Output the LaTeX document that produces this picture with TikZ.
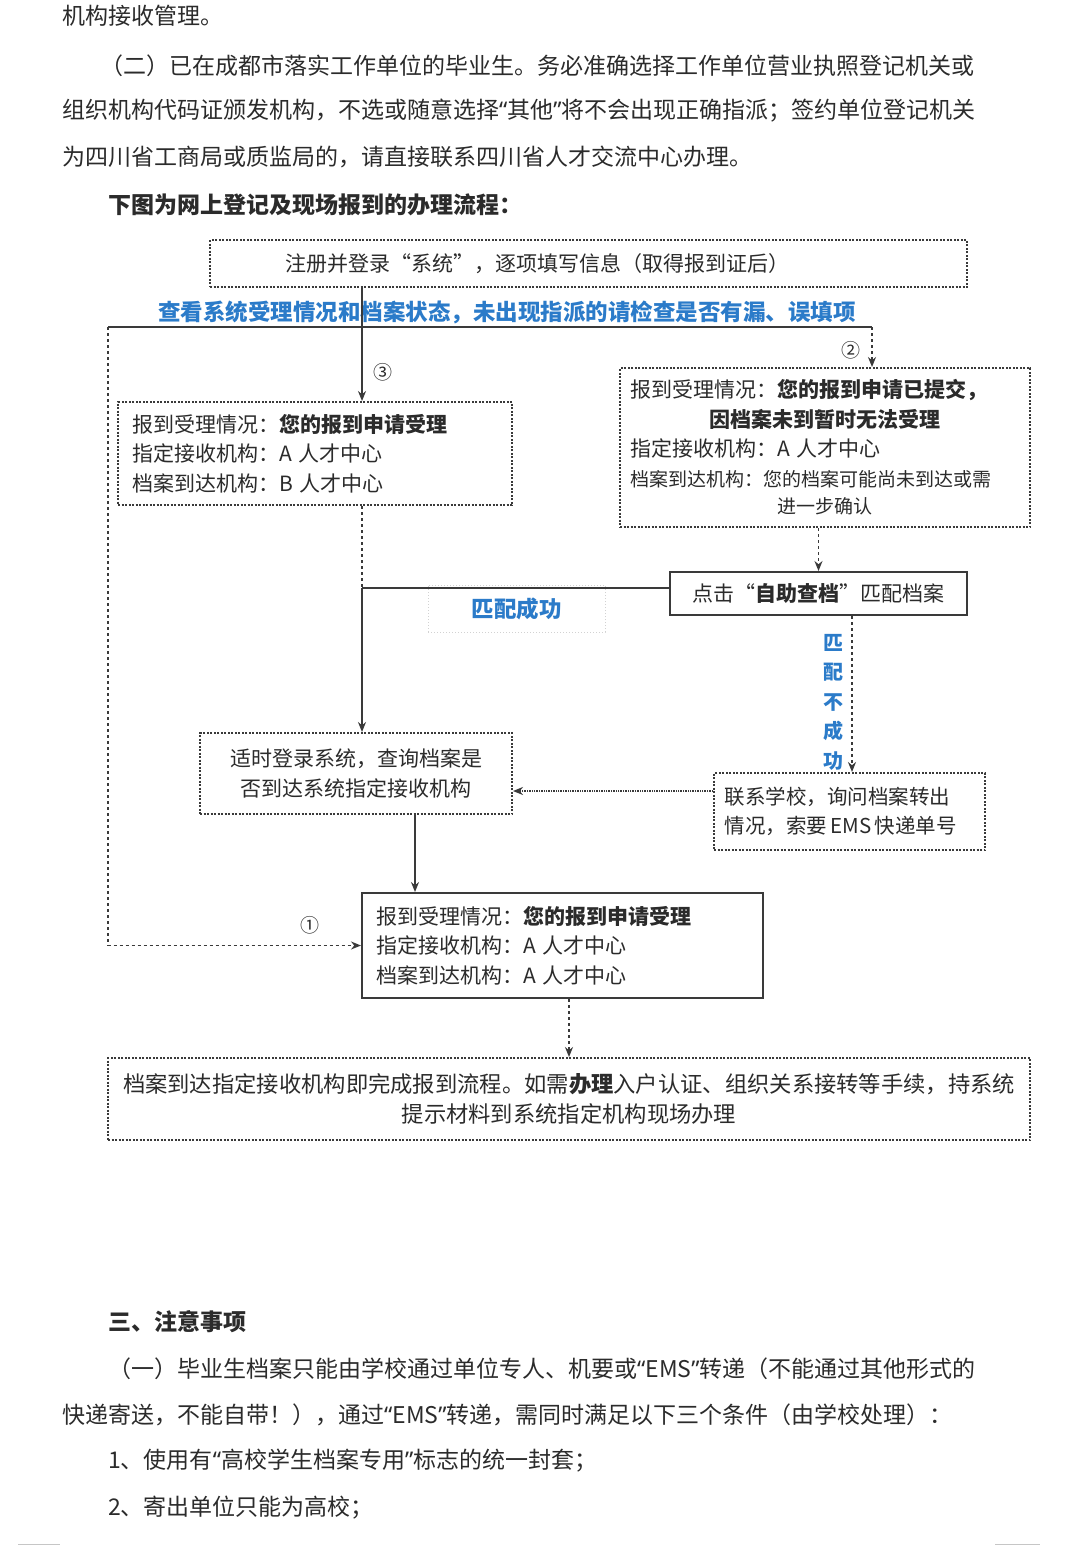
\documentclass[tikz,border=0pt]{standalone}
\usepackage{fontspec}
\setmainfont{Noto Sans CJK SC}
\newfontfamily\westfont{Noto Sans}
\newcommand{\qt}[1]{{\westfont “}#1{\westfont ”}}
\usetikzlibrary{arrows.meta,positioning}

\definecolor{inkgray}{HTML}{2B2B2B}
\definecolor{boxgray}{HTML}{3A3A3A}
\definecolor{noteblue}{HTML}{2B7BC9}

\tikzset{
	para/.style={anchor=west, inner sep=0pt, text=inkgray, font=\fontsize{23}{27}\selectfont},
	boldpara/.style={para, font=\bfseries\fontsize{23}{27}\selectfont},
	flowbox/.style={draw=boxgray, line width=2pt, dash pattern=on 2pt off 1.5pt, inner sep=0pt, text=inkgray, font=\fontsize{21}{29.5}\selectfont},
	solidbox/.style={flowbox, solid},
	note/.style={inner sep=0pt, text=noteblue, font=\bfseries\fontsize{22.5}{27}\selectfont},
	circnum/.style={inner sep=0pt, text=inkgray, font=\fontsize{19}{19}\selectfont},
	flow/.style={draw=boxgray, line width=1.4pt, -{Stealth[length=10pt,width=8pt]}},
	dashflow/.style={flow, dashed},
	trunk/.style={draw=boxgray, line width=2pt},
}

\begin{document}
\begin{tikzpicture}[x=1pt,y=-1pt]
	\fill[white] (0,0) rectangle (1080,1545);
	\useasboundingbox (0,0) rectangle (1080,1545);

	% Define nodes
	\node[para]     (p0) at (62,16)  {机构接收管理。};
	\node[para]     (p1) at (100,66) {（二）已在成都市落实工作单位的毕业生。务必准确选择工作单位营业执照登记机关或};
	\node[para]     (p2) at (62,111) {组织机构代码证颁发机构，不选或随意选择\qt{其他}将不会出现正确指派；签约单位登记机关};
	\node[para]     (p3) at (62,157) {为四川省工商局或质监局的，请直接联系四川省人才交流中心办理。};
	\node[boldpara] (p4) at (108,205) {下图为网上登记及现场报到的办理流程：};

	\node[flowbox, minimum width=757, minimum height=47, text width=607pt, align=left] (reg) at (588.5,263.5)
		{注册并登录“系统”，逐项填写信息（取得报到证后）};
	\node[note] (chk) at (507,312) {查看系统受理情况和档案状态，未出现指派的请检查是否有漏、误填项};

	\node[flowbox, minimum width=394, minimum height=103, text width=366pt, align=left] (reg2) at (315,453.5)
		{报到受理情况：\textbf{您的报到申请受理}\\指定接收机构：A 人才中心\\档案到达机构：B 人才中心};
	\node[flowbox, minimum width=410, minimum height=159, text width=390pt, align=center] (wait) at (825,447.5)
		{\makebox[390pt][l]{报到受理情况：\textbf{您的报到申请已提交，}}\\
		 \textbf{因档案未到暂时无法受理}\\
		 \makebox[390pt][l]{指定接收机构：A 人才中心}\\
		 \makebox[390pt][l]{\fontsize{19}{28}\selectfont 档案到达机构：您的档案可能尚未到达或需}\\[-2pt]
		 {\fontsize{19}{28}\selectfont 进一步确认}};

	\node[solidbox, minimum width=297, minimum height=43] (selfq) at (818.5,593.5)
		{点击“\textbf{自助查档}”匹配档案};
	\node[note, draw=gray!35, dotted, line width=1pt, minimum width=177, minimum height=47] (okay) at (516.5,608.5) {匹配成功};
	\node[note, align=center, font=\bfseries\fontsize{20}{29.5}\selectfont] (fail) at (833,702) {匹\\配\\不\\成\\功};

	\node[flowbox, minimum width=312, minimum height=81, text width=290pt, align=center] (relog) at (356,773.5)
		{适时登录系统，查询档案是\\否到达系统指定接收机构};
	\node[flowbox, minimum width=271, minimum height=77, text width=250pt, align=left, font=\fontsize{20.5}{29}\selectfont] (school) at (849.5,811.5)
		{联系学校，询问档案转出\\\mbox{情况，索要\,EMS\,快递单号}};

	\node[solidbox, minimum width=401, minimum height=105, text width=373pt, align=left] (done) at (562.5,945.5)
		{报到受理情况：\textbf{您的报到申请受理}\\指定接收机构：A 人才中心\\档案到达机构：A 人才中心};
	\node[flowbox, minimum width=922, minimum height=82, text width=900pt, align=center, font=\fontsize{22.3}{30}\selectfont] (finish) at (569,1099)
		{档案到达指定接收机构即完成报到流程。如需\textbf{办理}入户认证、组织关系接转等手续，持系统\\提示材料到系统指定机构现场办理};

	\node[circnum] (n3) at (383,372) {③};
	\node[circnum] (n2) at (851,350) {②};
	\node[circnum] (n1) at (310,925) {①};

	\node[boldpara] (q0) at (108,1322) {三、注意事项};
	\node[para]     (q1) at (108,1369) {（一）毕业生档案只能由学校通过单位专人、机要或\qt{EMS}转递（不能通过其他形式的};
	\node[para]     (q2) at (62,1415)  {快递寄送，不能自带！），通过\qt{EMS}转递，需同时满足以下三个条件（由学校处理）：};
	\node[para]     (q3) at (108,1461) {1、使用有\qt{高校学生档案专用}标志的统一封套；};
	\node[para]     (q4) at (108,1508) {2、寄出单位只能为高校；};

	% Connect the nodes
	\coordinate (jL) at (108,327);
	\coordinate (jR) at (872,327);
	\coordinate (jM) at (362,588);
	\coordinate (colD) at (852,0);
	\coordinate (colE) at (415,0);
	\coordinate (rowE) at (0,791);

	\draw[trunk] (jL) -- (jR);
	\draw[flow] (reg.south -| jM) -- (reg2.north -| jM);
	\draw[dashflow] (jL) |- (done.west);
	\draw[dashflow] (jR) -- (wait.north -| jR);
	\draw[dashflow] (wait.south -| selfq.north) -- (selfq.north);
	\draw[trunk] (selfq.west |- jM) -- (jM);
	\draw[draw=boxgray, line width=1.4pt, dashed] (reg2.south -| jM) -- (jM);
	\draw[flow] (jM) -- (relog.north -| jM);
	\draw[dashflow] (selfq.south -| colD) -- (school.north -| colD);
	\draw[flow, densely dotted, line width=2.4pt] (school.west |- rowE) -- (relog.east |- rowE);
	\draw[flow] (relog.south -| colE) -- (done.north -| colE);
	\draw[dashflow] (done.south -| finish.north) -- (finish.north);

	\draw[gray!45, line width=1pt] (18,1544) -- (60,1544) (995,1544) -- (1040,1544);
\end{tikzpicture}
\end{document}
